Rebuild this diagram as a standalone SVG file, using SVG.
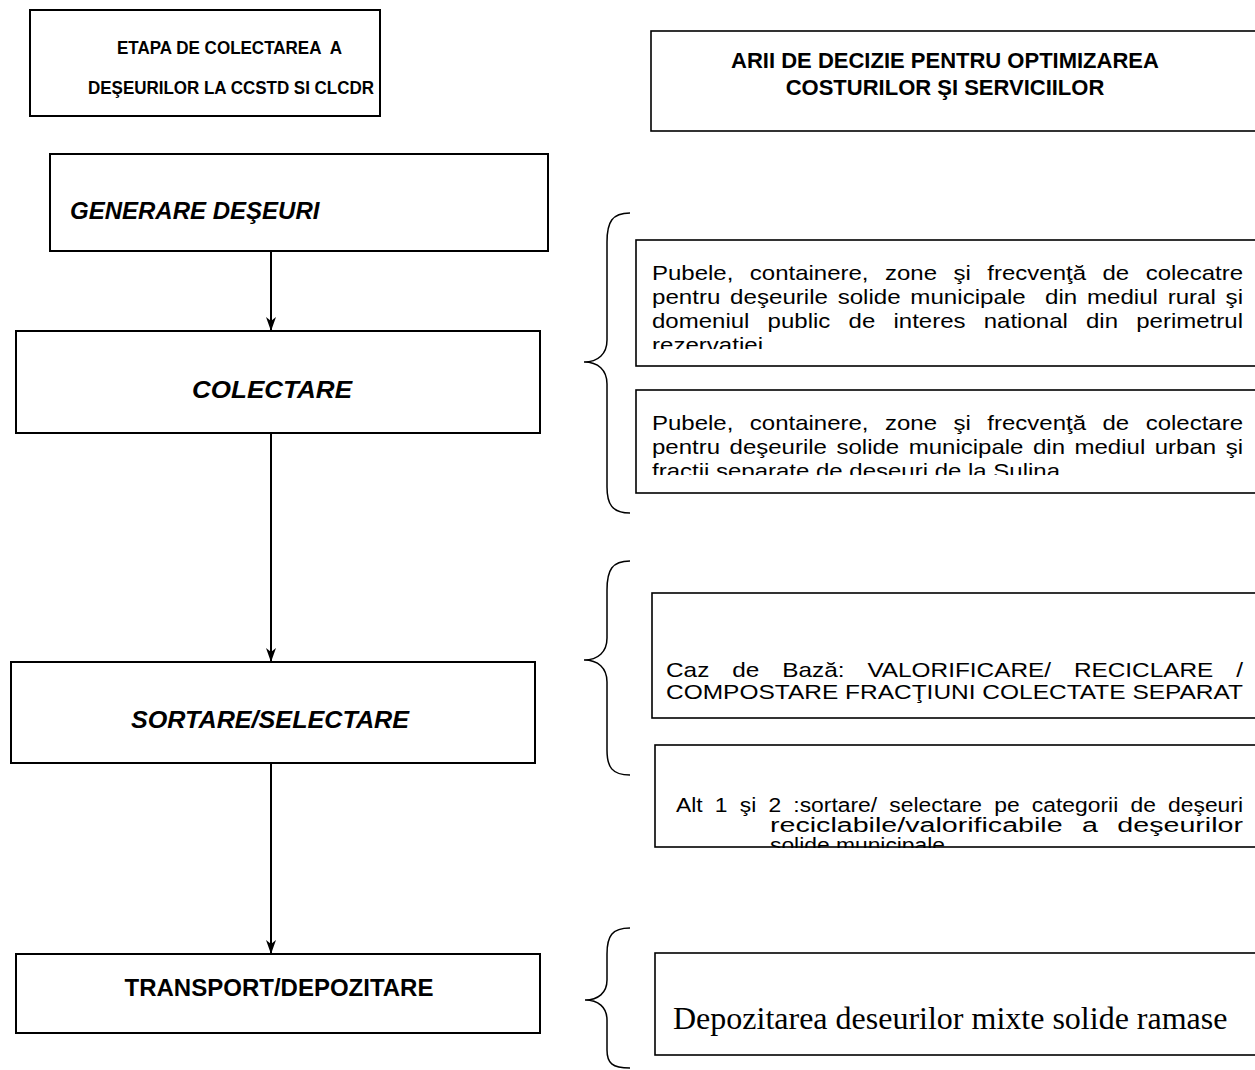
<svg xmlns="http://www.w3.org/2000/svg" width="1255" height="1070" viewBox="0 0 1255 1070">
  <style>
    .box { fill: #fff; stroke: #000; stroke-width: 2; }
    .rbox { fill: #fff; stroke: #000; stroke-width: 1.6; }
    .hdr { font-family: "Liberation Sans", Arial, sans-serif; font-weight: bold; fill: #000; }
    .step { font-family: "Liberation Sans", Arial, sans-serif; font-weight: bold; font-style: italic; font-size: 24px; fill: #000; }
    .stepn { font-family: "Liberation Sans", Arial, sans-serif; font-weight: bold; font-size: 24px; fill: #000; }
    .body { font-family: "Liberation Sans", Arial, sans-serif; font-size: 21px; fill: #000; white-space: pre; }
    .small { font-family: "Liberation Sans", Arial, sans-serif; font-size: 20px; fill: #000; white-space: pre; }
    .serif { font-family: "Liberation Serif", "Times New Roman", serif; font-size: 32px; fill: #000; }
    .edge { fill: none; stroke: #000; stroke-width: 2; }
    .brace { fill: none; stroke: #000; stroke-width: 1.5; }
  </style>
  <defs>
    <marker id="arrow" markerWidth="14" markerHeight="10" refX="14" refY="5" orient="auto" markerUnits="userSpaceOnUse" viewBox="0 0 14 10">
      <path d="M0,0 L14,5 L0,10 L4,5 Z" fill="#000"/>
    </marker>
    <clipPath id="clipR1"><rect x="640" y="244" width="615" height="105"/></clipPath>
    <clipPath id="clipR2"><rect x="640" y="394" width="615" height="81"/></clipPath>
    <clipPath id="clipR4"><rect x="660" y="750" width="595" height="98"/></clipPath>
  </defs>

  <!-- column headers -->
  <g id="hdr-etapa">
    <rect class="box" x="30" y="10" width="350" height="106"/>
    <text class="hdr" x="117" y="54" font-size="19" textLength="225" lengthAdjust="spacingAndGlyphs" style="white-space:pre">ETAPA DE COLECTAREA  A</text>
    <text class="hdr" x="88" y="94" font-size="19" textLength="286" lengthAdjust="spacingAndGlyphs">DEŞEURILOR LA CCSTD SI CLCDR</text>
  </g>
  <g id="hdr-arii">
    <rect class="rbox" x="651" y="31" width="620" height="100"/>
    <text class="hdr" x="945" y="68" font-size="22" text-anchor="middle">ARII DE DECIZIE PENTRU OPTIMIZAREA</text>
    <text class="hdr" x="945" y="95" font-size="22" text-anchor="middle">COSTURILOR ŞI SERVICIILOR</text>
  </g>

  <!-- process steps -->
  <g id="step-generare">
    <rect class="box" x="50" y="154" width="498" height="97"/>
    <text class="step" x="70" y="219">GENERARE DEŞEURI</text>
  </g>
  <g id="step-colectare">
    <rect class="box" x="16" y="331" width="524" height="102"/>
    <text class="step" x="192" y="398" font-size="25" textLength="160" lengthAdjust="spacingAndGlyphs">COLECTARE</text>
  </g>
  <g id="step-sortare">
    <rect class="box" x="11" y="662" width="524" height="101"/>
    <text class="step" x="131" y="728" font-size="25" textLength="278" lengthAdjust="spacingAndGlyphs">SORTARE/SELECTARE</text>
  </g>
  <g id="step-transport">
    <rect class="box" x="16" y="954" width="524" height="79"/>
    <text class="stepn" x="279" y="996" text-anchor="middle">TRANSPORT/DEPOZITARE</text>
  </g>

  <!-- flow connectors -->
  <g id="connectors">
    <line class="edge" x1="271" y1="251" x2="271" y2="331" marker-end="url(#arrow)"/>
    <line class="edge" x1="271" y1="433" x2="271" y2="662" marker-end="url(#arrow)"/>
    <line class="edge" x1="271" y1="763" x2="271" y2="954" marker-end="url(#arrow)"/>
  </g>

  <!-- braces grouping decision areas -->
  <g id="braces">
    <path class="brace" d="M630,213 C612,213 607,222 607,242 L607,340 C607,354 598,362 584,362 C598,362 607,370 607,384 L607,487 C607,504 612,513 630,513"/>
    <path class="brace" d="M630,561 C612,561 607,570 607,590 L607,638 C607,652 598,660 584,660 C598,660 607,668 607,682 L607,750 C607,767 612,775 630,775"/>
    <path class="brace" d="M630,928 C612,928 607,936 607,954 L607,980 C607,993 598,1000 585,1000 C598,1000 607,1007 607,1020 L607,1050 C607,1063 612,1068 630,1068"/>
  </g>

  <!-- decision areas (justified text, widened glyphs, exact line pitch clips last line) -->
  <g id="arie-colectare-rural">
    <rect class="rbox" x="636" y="240" width="630" height="126"/>
    <g clip-path="url(#clipR1)">
      <text class="body" x="652" y="280" word-spacing="8.6" textLength="591" lengthAdjust="spacingAndGlyphs">Pubele, containere, zone şi frecvenţă de colecatre</text>
      <text class="body" x="652" y="304" word-spacing="2.6" textLength="591" lengthAdjust="spacingAndGlyphs">pentru deşeurile solide municipale  din mediul rural şi</text>
      <text class="body" x="652" y="328" word-spacing="10.1" textLength="591" lengthAdjust="spacingAndGlyphs">domeniul public de interes national din perimetrul</text>
      <text class="body" x="652" y="352" textLength="111" lengthAdjust="spacingAndGlyphs">rezervatiei</text>
    </g>
  </g>
  <g id="arie-colectare-urban">
    <rect class="rbox" x="636" y="390" width="630" height="103"/>
    <g clip-path="url(#clipR2)">
      <text class="body" x="652" y="430" word-spacing="8.6" textLength="591" lengthAdjust="spacingAndGlyphs">Pubele, containere, zone şi frecvenţă de colectare</text>
      <text class="body" x="652" y="454" word-spacing="2.5" textLength="591" lengthAdjust="spacingAndGlyphs">pentru deşeurile solide municipale din mediul urban şi</text>
      <text class="body" x="652" y="478" textLength="408" lengthAdjust="spacingAndGlyphs">fractii separate de deseuri de la Sulina</text>
    </g>
  </g>
  <g id="arie-valorificare">
    <rect class="rbox" x="652" y="593" width="614" height="125"/>
    <text class="body" x="666" y="677" word-spacing="13.9" textLength="577" lengthAdjust="spacingAndGlyphs">Caz de Bază: VALORIFICARE/ RECICLARE /</text>
    <text class="body" x="666" y="699" textLength="577" lengthAdjust="spacingAndGlyphs">COMPOSTARE FRACŢIUNI COLECTATE SEPARAT</text>
  </g>
  <g id="arie-sortare">
    <rect class="rbox" x="655" y="745" width="611" height="102"/>
    <g clip-path="url(#clipR4)">
      <text class="small" x="676" y="812" word-spacing="5.1" textLength="567" lengthAdjust="spacingAndGlyphs">Alt 1 şi 2 :sortare/ selectare pe categorii de deşeuri</text>
      <text class="small" x="770" y="832" word-spacing="8" textLength="473" lengthAdjust="spacingAndGlyphs">reciclabile/valorificabile a deşeurilor</text>
      <text class="small" x="770" y="852" textLength="175" lengthAdjust="spacingAndGlyphs">solide municipale</text>
    </g>
  </g>
  <g id="arie-depozitare">
    <rect class="rbox" x="655" y="953" width="611" height="102"/>
    <text class="serif" x="673" y="1029">Depozitarea deseurilor mixte solide ramase</text>
  </g>
</svg>
